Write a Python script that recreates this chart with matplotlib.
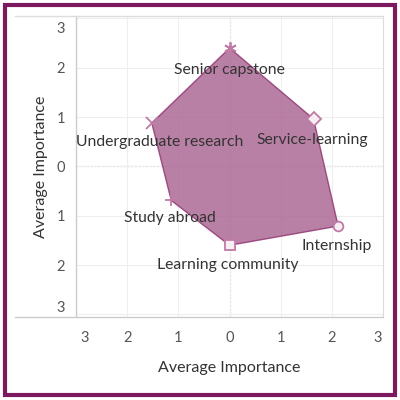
import matplotlib.pyplot as plt
from matplotlib.patches import Rectangle
from matplotlib.lines import Line2D
from matplotlib.transforms import ScaledTranslation

plt.rcParams['font.family'] = ['Lato', 'DejaVu Sans']

activities = ["Senior capstone", "Service-learning", "Internship",
              "Learning community", "Study abroad", "Undergraduate research"]
x_vals = [0.0, 1.64, 2.12, 0.0, -1.14, -1.52]
y_vals = [2.4, 0.96, -1.21, -1.6, -0.69, 0.88]
markers = [(6, 2, 0), "D", "o", "s", "+", "x"]
# label offsets in points (dx, dy)
label_offsets = [(0, -16), (-1, -15), (-1, -14), (-1, -14), (-1, -13), (6, -14)]
tick_vals = [-3, -2, -1, 0, 1, 2, 3]
tick_labels = ["3", "2", "1", "0", "1", "2", "3"]

fill_col = "#a8608f"
edge_col = "#8e2f6e"
mark_col = "#c07aa6"
text_col = "#333333"

fig = plt.figure(figsize=(4, 4), dpi=100)
ax = fig.add_axes([0.19, 0.208, 0.768, 0.752])

ax.fill(x_vals, y_vals, facecolor=fill_col, alpha=0.8, edgecolor=edge_col,
        linewidth=1.0, zorder=2)
for xv, yv, m in zip(x_vals, y_vals, markers):
    filled = m in ("+", "x") or isinstance(m, tuple)
    ax.plot(xv, yv, marker=m, markersize=9 if filled else 7,
            markerfacecolor="#f6eef3" if not filled else mark_col,
            markeredgecolor=mark_col, markeredgewidth=1.3,
            linestyle="none", zorder=3)

for name, xv, yv, (dx, dy) in zip(activities, x_vals, y_vals, label_offsets):
    ax.annotate(name, (xv, yv), xytext=(dx, dy), textcoords="offset points",
                ha="center", va="center", fontsize=11.3, color=text_col, zorder=4)

ax.set_xlim(-3, 3)
ax.set_ylim(-3.05, 3.05)
ax.set_xticks(tick_vals)
ax.set_xticklabels(tick_labels)
ax.set_yticks(tick_vals)
ax.set_yticklabels(tick_labels)
ax.tick_params(length=0, labelsize=10.5, colors="#555555")
ax.tick_params(axis="x", pad=10)
ax.tick_params(axis="y", pad=8)

# end labels pulled inside like the original
xl = ax.get_xticklabels()
xl[0].set_transform(xl[0].get_transform() + ScaledTranslation(0.09, 0, fig.dpi_scale_trans))
xl[-1].set_transform(xl[-1].get_transform() + ScaledTranslation(-0.06, 0, fig.dpi_scale_trans))
yl = ax.get_yticklabels()
yl[0].set_transform(yl[0].get_transform() + ScaledTranslation(0, 0.08, fig.dpi_scale_trans))
yl[-1].set_transform(yl[-1].get_transform() + ScaledTranslation(0, -0.09, fig.dpi_scale_trans))

ax.grid(color="#eeeeee", linewidth=0.8, zorder=0)
ax.axhline(0, color="#cccccc", linestyle=":", linewidth=1.0, zorder=1)
ax.axvline(0, color="#cccccc", linestyle=":", linewidth=1.0, zorder=1)

for side in ["top", "bottom"]:
    ax.spines[side].set_visible(False)
ax.spines["left"].set_color("#cccccc")
ax.spines["left"].set_linewidth(1.0)
ax.spines["right"].set_color("#dddddd")

ax.set_xlabel("Average Importance", fontsize=11.5, color=text_col, labelpad=12)
ax.set_ylabel("Average Importance", fontsize=11.5, color=text_col, labelpad=6)

# header lines extending to the left
fig.add_artist(Line2D([0.037, 0.958], [0.208, 0.208], color="#cccccc", linewidth=1.0))
fig.add_artist(Line2D([0.037, 0.958], [0.96, 0.96], color="#dddddd", linewidth=1.0))

# purple frame
fig.add_artist(Rectangle((0.012, 0.012), 0.976, 0.976, transform=fig.transFigure,
                         fill=False, edgecolor="#7b1b5e", linewidth=3))

fig.savefig("out.png", dpi=100)
